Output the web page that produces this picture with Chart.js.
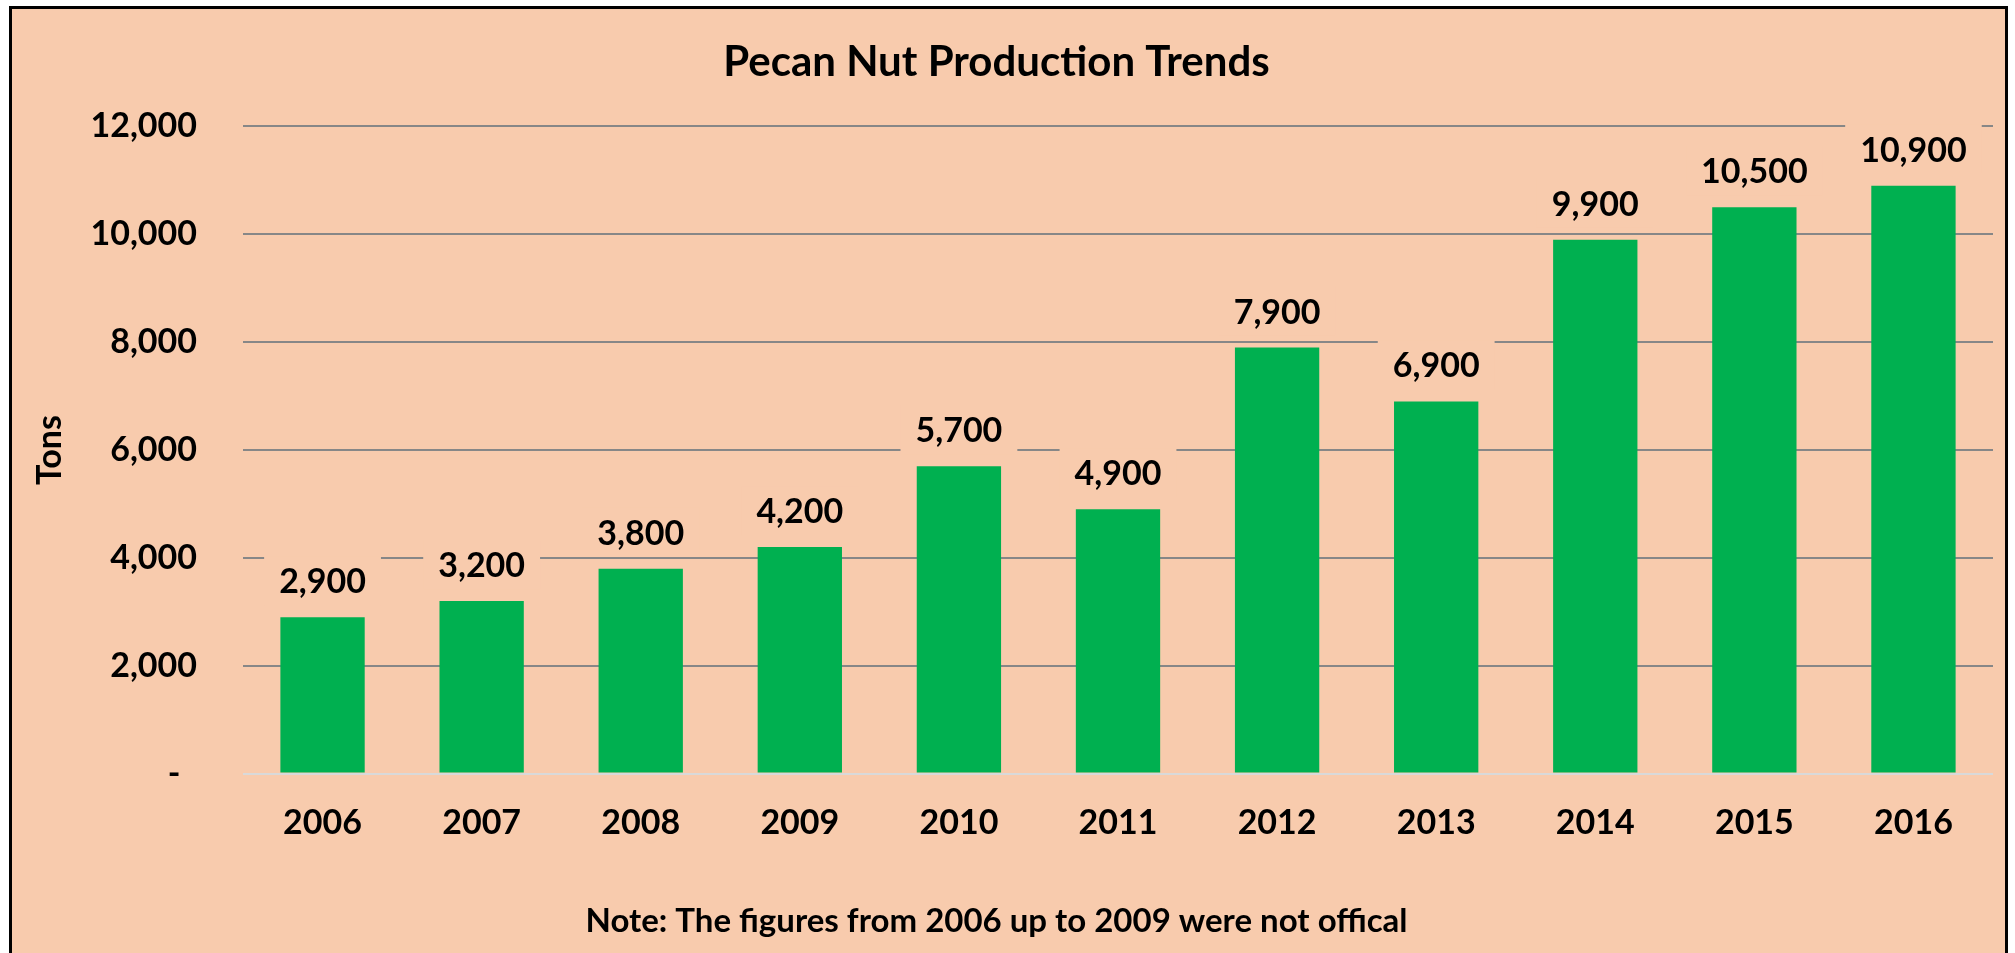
<!DOCTYPE html>
<html lang="en">
<head>
    <meta charset="UTF-8">
    <title>Pecan Nut Production Trends</title>
    <style>
        body {
            margin: 0;
            background-color: #ffffff;
            overflow: hidden;
        }

        .frame {
            position: absolute;
            left: 9px;
            top: 6px;
            width: 1999px;
            height: 1000px;
            box-sizing: border-box;
            border: 3px solid #000;
            background-color: #f8cbad;
        }

        .chart-box {
            position: absolute;
            left: 0;
            top: 0;
            width: 2015px;
            height: 953px;
        }
    </style>
</head>
<body>
    <div class="frame"></div>
    <div class="chart-box">
        <canvas id="pecanChart"></canvas>
    </div>
    <script src="https://cdn.jsdelivr.net/npm/chart.js"></script>
    <script>
        const years = ['2006', '2007', '2008', '2009', '2010', '2011', '2012', '2013', '2014', '2015', '2016'];
        const tons = [2900, 3200, 3800, 4200, 5700, 4900, 7900, 6900, 9900, 10500, 10900];
        const yTicks = [0, 2000, 4000, 6000, 8000, 10000, 12000];

        const fontFamily = "Lato, 'Open Sans', sans-serif";
        const peach = '#f8cbad';

        function formatTons(v) {
            return v === 0 ? '-  ' : v.toLocaleString('en-US');
        }

        // value labels above the bars, with a peach box that hides the gridlines behind them
        const barLabels = {
            id: 'barLabels',
            afterDatasetsDraw(chart) {
                const ctx = chart.ctx;
                const meta = chart.getDatasetMeta(0);
                ctx.save();
                ctx.font = 'bold 34px ' + fontFamily;
                ctx.textAlign = 'center';
                ctx.textBaseline = 'alphabetic';
                meta.data.forEach((bar, i) => {
                    const text = formatTons(tons[i]);
                    const w = ctx.measureText(text).width;
                    const baseline = bar.y - 24;
                    ctx.fillStyle = peach;
                    ctx.fillRect(bar.x - w / 2 - 15, baseline - 37, w + 30, 49);
                    ctx.fillStyle = '#000';
                    ctx.fillText(text, bar.x, baseline);
                });
                ctx.restore();
            }
        };

        Chart.defaults.color = '#000';
        Chart.defaults.font.family = fontFamily;

        const canvas = document.getElementById('pecanChart');
        new Chart(canvas.getContext('2d'), {
            type: 'bar',
            data: {
                labels: years,
                datasets: [{
                    label: 'Tons',
                    data: tons,
                    backgroundColor: '#00b050',
                    borderWidth: 0,
                    barPercentage: 0.53,
                    categoryPercentage: 1
                }]
            },
            options: {
                responsive: true,
                maintainAspectRatio: false,
                animation: false,
                layout: {
                    padding: { left: 0, right: 22, top: 0, bottom: 0 }
                },
                plugins: {
                    legend: { display: false },
                    tooltip: { enabled: false },
                    title: {
                        display: true,
                        text: 'Pecan Nut Production Trends',
                        font: { size: 42, weight: 'bold' },
                        padding: { top: 37, bottom: 39 }
                    },
                    subtitle: {
                        display: true,
                        position: 'bottom',
                        text: 'Note: The figures from 2006 up to 2009 were not offical',
                        font: { size: 33, weight: 'bold' },
                        padding: { top: 29, bottom: 12 }
                    }
                },
                scales: {
                    x: {
                        grid: { display: false, drawTicks: false },
                        border: { display: false },
                        ticks: {
                            font: { size: 34, weight: 'bold' },
                            padding: 29
                        }
                    },
                    y: {
                        min: 0,
                        max: 12000,
                        afterBuildTicks(scale) {
                            scale.ticks = yTicks.map(v => ({ value: v }));
                        },
                        afterFit(scale) {
                            scale.width = 243;
                        },
                        grid: {
                            drawTicks: false,
                            lineWidth: 2,
                            color: c => (c.tick && c.tick.value === 0 ? '#d9d9d9' : '#878787')
                        },
                        border: { display: false },
                        ticks: {
                            font: { size: 34, weight: 'bold' },
                            padding: 46,
                            callback: v => formatTons(v)
                        },
                        title: {
                            display: true,
                            text: 'Tons',
                            font: { size: 34, weight: 'bold' },
                            padding: { top: 30, bottom: 0 }
                        }
                    }
                }
            },
            plugins: [barLabels]
        });
    </script>
</body>
</html>
